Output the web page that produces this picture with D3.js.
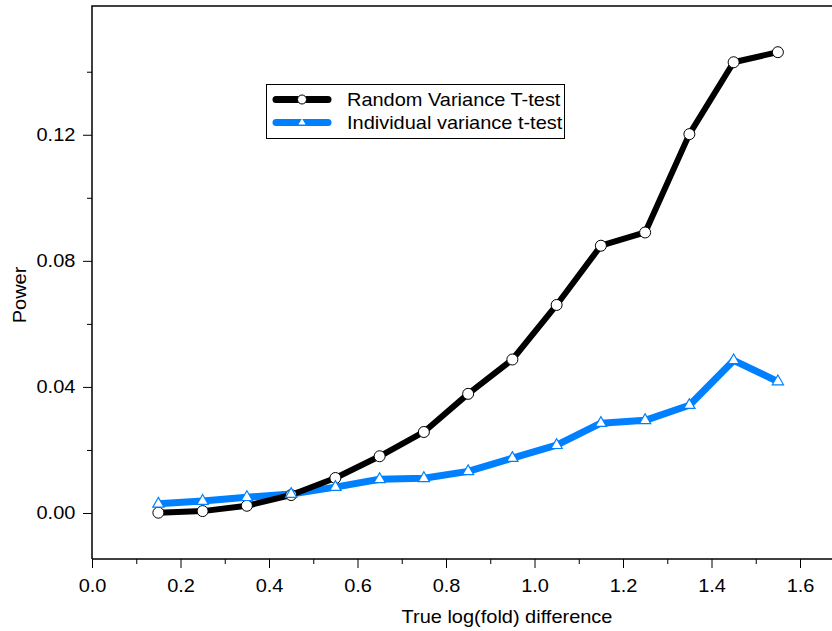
<!DOCTYPE html>
<html>
<head>
<meta charset="utf-8">
<script src="https://cdn.jsdelivr.net/npm/d3@7"></script>
<style>
  body { margin: 0; background: #fff; }
  svg { display: block; font-family: "Liberation Sans", Arial, sans-serif; }
</style>
</head>
<body>
<svg id="chart" width="832" height="631"></svg>
<script>
const foldDiff = [0.15, 0.25, 0.35, 0.45, 0.55, 0.65, 0.75, 0.85, 0.95, 1.05, 1.15, 1.25, 1.35, 1.45, 1.55];
const randomVarPower = [0.0001, 0.0006, 0.0023, 0.0057, 0.0111, 0.0180, 0.0257, 0.0378, 0.0487, 0.0660, 0.0848, 0.0890, 0.1202, 0.1430, 0.1462];
const individualVarPower = [0.0029, 0.0038, 0.0050, 0.0060, 0.0082, 0.0107, 0.0110, 0.0132, 0.0174, 0.0215, 0.0285, 0.0294, 0.0342, 0.0484, 0.0417];
const xMajorTicks = [0.0, 0.2, 0.4, 0.6, 0.8, 1.0, 1.2, 1.4, 1.6];
const xMinorTicks = [0.1, 0.3, 0.5, 0.7, 0.9, 1.1, 1.3, 1.5];
const yMajorTicks = [0.00, 0.04, 0.08, 0.12];
const yMinorTicks = [0.02, 0.06, 0.10, 0.14];
const seriesNames = ["Random Variance T-test", "Individual variance t-test"];

(function () {
const svg = d3.select("#chart");
const pLeft = 92, pTop = 6, pBottom = 559;
const SX = 1.11; // horizontal stretch of text in the reference

const x = d3.scaleLinear().domain([0, 1.7]).range([pLeft, pLeft + 442.5 * 1.7]);
const y = d3.scaleLinear().domain([0, 0.14]).range([513, 513 - 3152 * 0.14]);

const blue = "#0080ff";

function stretchedText(parent, tx, ty, str, anchor, rotate) {
  return parent.append("text")
    .attr("transform", `translate(${tx},${ty})${rotate ? " rotate(-90)" : ""} scale(${SX},1)`)
    .attr("text-anchor", anchor || "start")
    .attr("font-size", 18).attr("fill", "#000").text(str);
}

// frame
svg.append("path")
  .attr("d", `M${pLeft},${pBottom} L${pLeft},${pTop} L${900},${pTop}`)
  .attr("fill", "none").attr("stroke", "#000").attr("stroke-width", 1.5);
svg.append("line")
  .attr("x1", pLeft).attr("x2", 900).attr("y1", pBottom).attr("y2", pBottom)
  .attr("stroke", "#000").attr("stroke-width", 1.5);

// axes
const xAxis = svg.append("g").attr("transform", `translate(0,${pBottom})`)
  .call(d3.axisBottom(x).tickValues(xMajorTicks).tickFormat(d3.format(".1f")).tickSize(9).tickSizeOuter(0).tickPadding(11));
xAxis.select(".domain").remove();
svg.append("g").attr("transform", `translate(0,${pBottom})`)
  .call(d3.axisBottom(x).tickValues(xMinorTicks).tickFormat("").tickSize(5).tickSizeOuter(0))
  .select(".domain").remove();

const yAxis = svg.append("g").attr("transform", `translate(${pLeft},0)`)
  .call(d3.axisLeft(y).tickValues(yMajorTicks).tickFormat(d3.format(".2f")).tickSize(9).tickSizeOuter(0).tickPadding(6));
yAxis.select(".domain").remove();
svg.append("g").attr("transform", `translate(${pLeft},0)`)
  .call(d3.axisLeft(y).tickValues(yMinorTicks).tickFormat("").tickSize(5).tickSizeOuter(0))
  .select(".domain").remove();

svg.selectAll(".tick text").attr("font-size", 18).attr("fill", "#000")
  .attr("font-family", "'Liberation Sans', Arial, sans-serif")
  .attr("transform", `scale(${SX},1)`);
svg.selectAll(".tick line").attr("stroke", "#000").attr("stroke-width", 1);

// axis titles
stretchedText(svg, 507, 623, "True log(fold) difference", "middle");
stretchedText(svg, 26, 295, "Power", "middle", true);

// lines
const line = d3.line().x(d => x(d[0])).y(d => y(d[1]));
const blueData = foldDiff.map((v, i) => [v, individualVarPower[i]]);
const blackData = foldDiff.map((v, i) => [v, randomVarPower[i]]);

const tri = d3.symbol().type(d3.symbolTriangle).size(55);

svg.append("path").datum(blueData).attr("d", line)
  .attr("fill", "none").attr("stroke", blue).attr("stroke-width", 7).attr("stroke-linejoin", "round");
svg.append("path").datum(blackData).attr("d", line)
  .attr("fill", "none").attr("stroke", "#000").attr("stroke-width", 6).attr("stroke-linejoin", "round");

svg.selectAll(".blk").data(blackData).enter().append("circle")
  .attr("cx", d => x(d[0])).attr("cy", d => y(d[1])).attr("r", 5.5)
  .attr("fill", "#fff").attr("stroke", "#000").attr("stroke-width", 1);
svg.selectAll(".blu").data(blueData).enter().append("path")
  .attr("d", tri).attr("transform", d => `translate(${x(d[0])},${y(d[1])})`)
  .attr("fill", "#fff").attr("stroke", blue).attr("stroke-width", 1.2);

// legend
const lg = svg.append("g");
lg.append("rect").attr("x", 266.5).attr("y", 84.5).attr("width", 298).attr("height", 54)
  .attr("fill", "#fff").attr("stroke", "#000").attr("stroke-width", 1);
const legendRows = [
  { name: seriesNames[0], color: "#000", y: 99.5, marker: "circle" },
  { name: seriesNames[1], color: blue, y: 122.5, marker: "tri" }
];
legendRows.forEach(r => {
  lg.append("line").attr("x1", 276).attr("x2", 328).attr("y1", r.y).attr("y2", r.y)
    .attr("stroke", r.color).attr("stroke-width", 7).attr("stroke-linecap", "round");
  if (r.marker === "circle") {
    lg.append("circle").attr("cx", 302).attr("cy", r.y).attr("r", 4.5)
      .attr("fill", "#fff").attr("stroke", "#000").attr("stroke-width", 1);
  } else {
    lg.append("path").attr("d", d3.symbol().type(d3.symbolTriangle).size(22))
      .attr("transform", `translate(302,${r.y})`).attr("fill", "#fff");
  }
  stretchedText(lg, 347, r.y + 6.5, r.name, "start");
});
})();
</script>
</body>
</html>
